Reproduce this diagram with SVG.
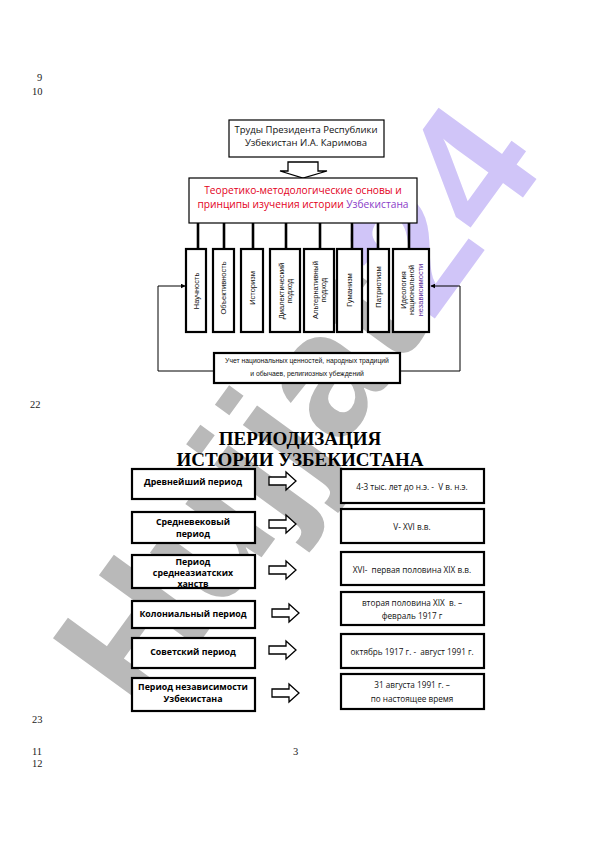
<svg xmlns="http://www.w3.org/2000/svg" width="596" height="842" viewBox="0 0 596 842">
<style>
.pn{font-family:"Liberation Serif",serif;font-size:10.5px;fill:#222}
.box{fill:#fff;stroke:#000;stroke-width:1.2}
.tbox{fill:#fff;stroke:#000;stroke-width:2.2}
.conn{stroke:#000;stroke-width:2.6;fill:none}
.thin{stroke:#000;stroke-width:1;fill:none}
.t1{font-family:"Open Sans","Liberation Sans",sans-serif;font-size:9.5px;fill:#111;text-anchor:middle}
.red{font-family:"Open Sans","Liberation Sans",sans-serif;font-size:10.2px;fill:#e3001b;text-anchor:middle}
.vt{font-family:"Liberation Sans",sans-serif;font-size:7.5px;fill:#111;text-anchor:middle}
.lp{font-family:"Liberation Sans",sans-serif;font-size:6.8px;fill:#111;text-anchor:middle}
.ttl{font-family:"Liberation Serif",serif;font-weight:bold;font-size:19px;fill:#000;text-anchor:middle}
.lb{font-family:"Open Sans","Liberation Sans",sans-serif;font-weight:bold;font-size:8.8px;fill:#000;text-anchor:middle}
.rt{font-family:"Open Sans","Liberation Sans",sans-serif;font-size:8.2px;fill:#111;text-anchor:middle;white-space:pre}
.arr{fill:#fff;stroke:#000;stroke-width:1.3}
.wm{font-family:"Liberation Sans",sans-serif;font-weight:bold;font-size:176px}
</style>
<defs>
<marker id="ah" viewBox="0 0 8 8" refX="7" refY="4" markerWidth="5" markerHeight="5" orient="auto"><path d="M0,0 L8,4 L0,8 Z" fill="#000"/></marker>
<path id="rarrow" d="M0,-4 H17 V-9 L27,0 L17,9 V4 H0 Z"/>
</defs>

<g id="watermark">
<text class="wm" transform="translate(144,719) rotate(-54)"><tspan fill="#b9b9b9">Hujjat</tspan><tspan fill="#d0c5f8">24</tspan></text>
</g>

<g id="page-numbers">
<text class="pn" x="37" y="81">9</text>
<text class="pn" x="32" y="95">10</text>
<text class="pn" x="30" y="408">22</text>
<text class="pn" x="32" y="723">23</text>
<text class="pn" x="32" y="755">11</text>
<text class="pn" x="32" y="767">12</text>
<text class="pn" x="293" y="755">3</text>
</g>

<g id="connectors">
<path class="arr" d="M288,162 H318 V171 H327 L303,178 L280,171 H288 Z"/>
<line class="conn" x1="198" y1="223" x2="198" y2="249"/>
<line class="conn" x1="224" y1="223" x2="224" y2="249"/>
<line class="conn" x1="253" y1="223" x2="253" y2="249"/>
<line class="conn" x1="286" y1="223" x2="286" y2="249"/>
<line class="conn" x1="320" y1="223" x2="320" y2="249"/>
<line class="conn" x1="352" y1="223" x2="352" y2="249"/>
<line class="conn" x1="378" y1="223" x2="378" y2="249"/>
<line class="conn" x1="409" y1="223" x2="409" y2="249"/>
<path class="thin" d="M214,371 H158 V286 H185" marker-end="url(#ah)"/>
<path class="thin" d="M400,371 H460 V286 H431" marker-end="url(#ah)"/>
<use href="#rarrow" class="arr" x="269" y="481"/>
<use href="#rarrow" class="arr" x="269" y="524"/>
<use href="#rarrow" class="arr" x="269" y="570"/>
<use href="#rarrow" class="arr" x="272" y="613"/>
<use href="#rarrow" class="arr" x="269" y="650"/>
<use href="#rarrow" class="arr" x="272" y="693"/>
</g>

<g id="n-trudy">
<rect class="box" x="229" y="120" width="155" height="37"/>
<text class="t1" x="306" y="133">Труды Президента Республики</text>
<text class="t1" x="306" y="146">Узбекистан И.А. Каримова</text>
</g>

<g id="n-osnovy">
<rect class="box" x="189" y="178" width="228" height="45" stroke-width="1.6"/>
<text class="red" x="303" y="194">Теоретико-методологические основы и</text>
<text class="red" x="303" y="208">принципы изучения истории <tspan fill="#8a3cc8">Узбекистана</tspan></text>
</g>

<g id="n-nauchnost">
<rect class="tbox" x="186" y="249" width="20" height="83"/>
<text class="vt" transform="translate(196,291) rotate(-90)" y="2.7">Научность</text>
</g>
<g id="n-obektivnost">
<rect class="tbox" x="213" y="249" width="21" height="83"/>
<text class="vt" transform="translate(223.5,288) rotate(-90)" y="2.7">Объективность</text>
</g>
<g id="n-istorizm">
<rect class="tbox" x="241" y="249" width="22" height="83"/>
<text class="vt" transform="translate(252,288) rotate(-90)" y="2.7">Историзм</text>
</g>
<g id="n-dialekt">
<rect class="tbox" x="270" y="249" width="30" height="83"/>
<text class="vt" transform="translate(285,291) rotate(-90)"><tspan x="0" y="-1.5">Диалектический</tspan><tspan x="0" y="7">подход</tspan></text>
</g>
<g id="n-alternat">
<rect class="tbox" x="304" y="249" width="30" height="83"/>
<text class="vt" transform="translate(319,290) rotate(-90)"><tspan x="0" y="-1.5">Альтернативный</tspan><tspan x="0" y="7">подход</tspan></text>
</g>
<g id="n-gumanizm">
<rect class="tbox" x="337" y="249" width="25" height="83"/>
<text class="vt" transform="translate(349.5,290) rotate(-90)" y="2.7">Гуманизм</text>
</g>
<g id="n-patriotizm">
<rect class="tbox" x="368" y="249" width="21" height="83"/>
<text class="vt" transform="translate(378.5,287) rotate(-90)" y="2.7">Патриотизм</text>
</g>
<g id="n-ideologiya">
<rect class="tbox" x="393" y="249" width="36" height="83"/>
<text class="vt" transform="translate(411,290) rotate(-90)"><tspan x="0" y="-5.5">Идеология</tspan><tspan x="0" y="3">национальной</tspan><tspan x="0" y="11.5" fill="#5a2a9a">независимости</tspan></text>
</g>

<g id="n-uchet">
<rect class="tbox" x="214" y="353" width="186" height="30"/>
<text class="lp" x="307" y="363">Учет национальных ценностей, народных традиций</text>
<text class="lp" x="307" y="376">и обычаев, религиозных убеждений</text>
</g>

<g id="title">
<text class="ttl" x="300" y="445">ПЕРИОДИЗАЦИЯ</text>
<text class="ttl" x="300" y="466">ИСТОРИИ УЗБЕКИСТАНА</text>
</g>

<g id="p1"><rect class="tbox" x="132" y="469" width="123" height="30"/><text class="lb" x="193" y="485">Древнейший период</text></g>
<g id="p2"><rect class="tbox" x="132" y="512" width="123" height="31"/><text class="lb" x="193" y="525">Средневековый</text><text class="lb" x="193" y="537">период</text></g>
<g id="p3"><rect class="tbox" x="132" y="555" width="123" height="33"/><text class="lb" x="193" y="565">Период</text><text class="lb" x="193" y="576">среднеазиатских</text><text class="lb" x="193" y="587">ханств</text></g>
<g id="p4"><rect class="tbox" x="132" y="601" width="123" height="27"/><text class="lb" x="193" y="617">Колониальный период</text></g>
<g id="p5"><rect class="tbox" x="132" y="638" width="123" height="30"/><text class="lb" x="193" y="655">Советский период</text></g>
<g id="p6"><rect class="tbox" x="132" y="678" width="123" height="33"/><text class="lb" x="193" y="690">Период независимости</text><text class="lb" x="193" y="702">Узбекистана</text></g>

<g id="d1"><rect class="tbox" x="341" y="469" width="143" height="34"/><text class="rt" x="412" y="490">4-3 тыс. лет до н.э. -  V в. н.э.</text></g>
<g id="d2"><rect class="tbox" x="341" y="509" width="143" height="34"/><text class="rt" x="412" y="530">V- XVI в.в.</text></g>
<g id="d3"><rect class="tbox" x="341" y="552" width="143" height="33"/><text class="rt" x="412" y="573">XVI-  первая половина XIX в.в.</text></g>
<g id="d4"><rect class="tbox" x="341" y="592" width="143" height="33"/><text class="rt" x="412" y="606">вторая половина XIX  в. –</text><text class="rt" x="412" y="619">февраль 1917 г</text></g>
<g id="d5"><rect class="tbox" x="341" y="634" width="143" height="34"/><text class="rt" x="412" y="655">октябрь 1917 г. -  август 1991 г.</text></g>
<g id="d6"><rect class="tbox" x="341" y="674" width="143" height="35"/><text class="rt" x="412" y="688">31 августа 1991 г. –</text><text class="rt" x="412" y="702">по настоящее время</text></g>
</svg>
